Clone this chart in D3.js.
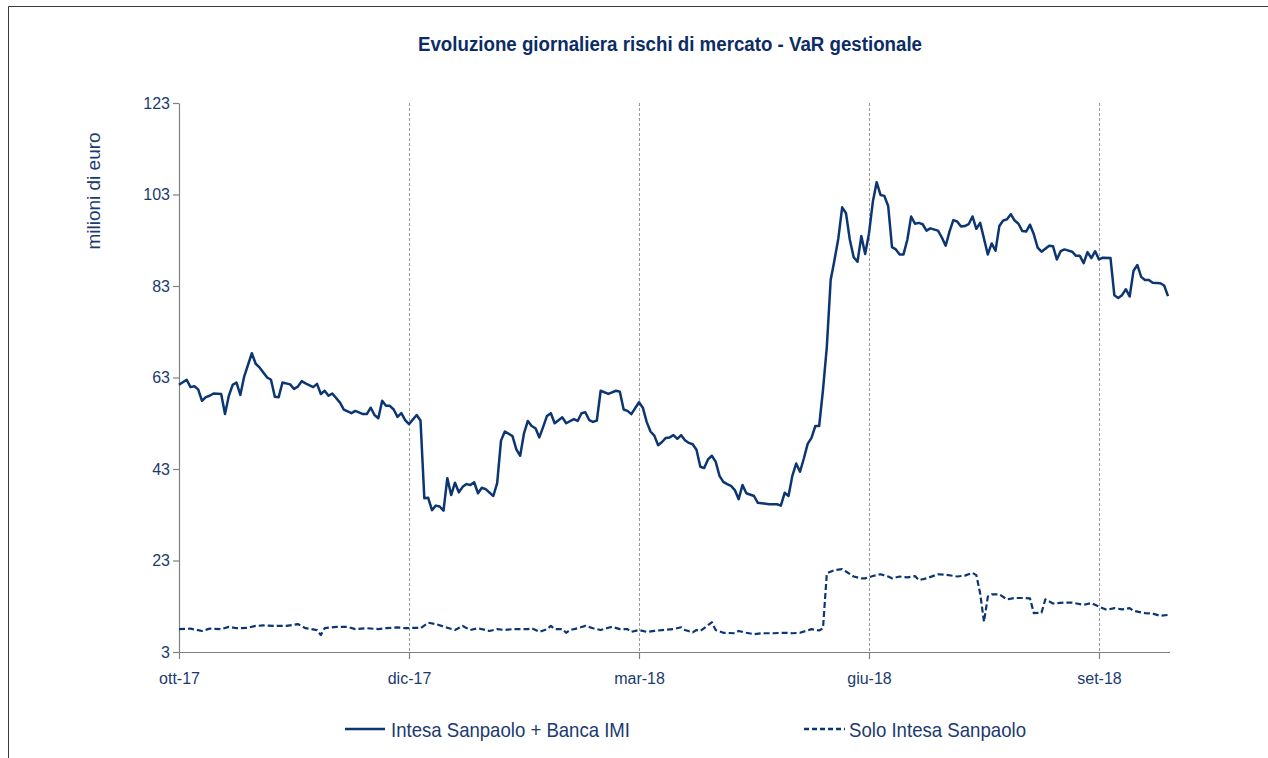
<!DOCTYPE html>
<html>
<head>
<meta charset="utf-8">
<script src="https://cdn.jsdelivr.net/npm/d3@7"></script>
<style>
  body { margin: 0; background: #fff; }
  svg { display: block; }
  .narrow { font-family: "Liberation Sans Narrow", "Arial Narrow", "Liberation Sans", sans-serif; }
  .reg { font-family: "Liberation Sans", Arial, sans-serif; }
</style>
</head>
<body>
<svg></svg>
<script>
const SVGsize = {w: 1268, h: 758};
const margins = {t: 103, r: 100, b: 106, l: 179};
const size = {
    w: SVGsize.w - margins.l - margins.r,
    h: SVGsize.h - margins.t - margins.b
};

const navy = '#0b3672';
const textNavy = '#1b3a70';

// data: trading-day index (0..258) and VaR in milioni di euro
const mainIdx = [0,2,3,4,5,6,7,8,9,11,12,13,14,15,16,17,19,20,21,23,24,25,26,27,29,30,31,32,33,35,36,37,38,39,40,42,43,45,46,48,49,50,51,52,53,54,55,56,57,58,59,60,62,63,
    64,65,66,67,68,69,70,71,72,73,74,75,76,77,78,79,80,82,83,84,85,87,88,89,90,91,92,93,94,95,96,97,98,100,101,103,104,105,106,107,108,109,110,112,114,115,116,117,118,120,121,
    122,123,124,125,126,127,128,129,130,131,132,133,134,135,136,137,138,139,140,141,142,143,144,145,146,147,148,150,151,152,154,156,157,158,159,160,161,162,163,164,165,166,167,
    168,169,170,171,172,173,174,175,176,177,178,179,180,181,182,183,184,185,186,187,188,189,190,191,192,193,194,195,196,198,199,200,201,202,203,204,205,206,207,208,209,
    211,212,213,214,215,216,217,218,219,220,221,222,223,224,225,227,228,229,230,231,233,234,235,236,237,238,239,240,241,243,244,245,246,247,248,249,250,251,252,253,254,256,257,258];
const mainVal = [61.4,62.5,60.9,61.1,60.4,57.9,58.7,59.0,59.5,59.4,55.0,59.0,61.4,61.9,59.2,63.2,68.3,66.0,65.2,63.0,62.5,58.8,58.7,61.9,61.5,60.5,61.0,62.2,61.7,60.9,61.6,59.4,60.1,59.0,59.5,57.5,56.0,55.2,55.7,55.0,55.0,56.4,54.8,54.1,57.9,56.8,56.8,56.0,54.4,55.2,53.7,52.8,54.8,53.6,
    36.6,36.7,34.0,35.0,34.8,33.9,41.0,37.3,40.0,37.9,39.1,39.7,39.5,40.1,37.7,38.9,38.6,37.1,39.9,49.2,51.2,50.2,47.3,45.9,50.8,53.5,52.4,51.9,49.9,52.2,54.6,55.2,53.0,54.3,53.0,53.9,53.5,55.2,55.4,53.7,53.3,53.6,60.1,59.4,60.1,59.9,56.0,55.7,55.0,57.6,56.4,
    53.3,51.2,50.3,48.2,48.9,49.8,49.9,50.4,49.6,50.4,49.3,48.7,48.4,47.2,43.5,43.2,45.1,45.9,44.6,41.5,40.2,39.7,39.3,38.4,36.4,39.5,37.7,37.1,35.6,35.5,35.3,35.3,35.0,37.8,37.1,41.5,44.2,42.4,45.3,48.5,49.8,52.4,52.4,
    60.3,69.7,84.3,88.7,93.4,100.2,98.9,93.1,89.3,88.3,93.9,90.0,94.5,101.4,105.7,102.9,102.7,100.5,91.5,91.0,89.9,89.9,93.1,98.2,96.6,96.8,96.5,95.1,95.6,95.1,93.6,91.8,94.9,97.4,97.1,96.0,96.1,96.5,98.2,95.5,96.8,
    89.9,92.3,90.7,96.1,97.3,97.6,98.7,97.3,96.6,95.0,94.9,96.4,94.3,91.4,90.5,91.8,91.7,88.8,90.6,91.0,90.5,89.6,89.6,88.0,90.4,89.1,90.6,88.8,89.2,89.1,81.0,80.4,81.0,82.3,80.7,86.3,87.6,85.0,84.3,84.3,83.7,83.6,83.1,80.8];

const soloIdx = [0,3,6,8,11,13,15,18,20,22,25,28,31,33,36,37,38,41,44,46,49,52,54,57,59,62,63,65,67,70,72,74,76,78,81,83,85,87,91,92,94,96,97,98,100,101,102,104,106,108,110,112,113,115,117,118,120,
    122,124,126,129,131,132,134,135,136,137,139,140,142,145,146,148,150,152,155,158,160,162,165,167,168,169,171,173,174,176,178,179,181,183,185,186,188,190,192,193,195,198,200,203,205,207,208,
    209,210,211,212,214,216,218,220,222,223,225,226,228,231,233,236,238,240,242,244,246,248,249,252,254,256,258];
const soloVal = [8.0,8.1,7.6,8.1,8.0,8.5,8.2,8.3,8.7,8.8,8.7,8.7,9.1,8.2,7.8,6.7,8.2,8.5,8.5,8.0,8.2,8.0,8.2,8.4,8.2,8.3,8.2,9.4,9.1,8.3,7.8,8.7,7.8,8.2,7.6,8.0,7.8,8.0,8.0,8.2,7.4,8.0,8.7,8.0,8.0,7.2,7.8,8.2,8.7,8.2,7.8,8.3,8.5,8.0,8.0,7.4,7.8,
    7.4,7.6,7.8,8.0,8.4,7.8,7.3,7.8,7.6,8.2,9.5,7.8,7.2,7.1,7.6,7.2,6.9,7.1,7.1,7.2,7.1,7.2,8.0,7.7,8.2,20.2,20.9,21.1,20.6,19.5,19.1,19.1,19.6,20.0,19.5,19.1,19.5,19.3,19.6,18.7,19.1,20.0,19.9,19.5,19.7,20.3,19.8,
    15.8,9.6,15.1,15.6,15.6,14.5,14.8,14.8,14.7,11.5,11.6,14.5,13.6,13.8,13.8,13.3,13.7,12.9,12.2,12.6,12.3,12.6,12.0,11.5,11.4,10.9,11.1];

const yTicks = [3, 23, 43, 63, 83, 103, 123];
const xTickIdx = [0, 60, 120, 180, 240];
const xTickLabels = ['ott-17', 'dic-17', 'mar-18', 'giu-18', 'set-18'];

const seriesNames = ['Intesa Sanpaolo + Banca IMI', 'Solo Intesa Sanpaolo'];
const chartTitle = 'Evoluzione giornaliera rischi di mercato - VaR gestionale';
const yTitle = 'milioni di euro';

const svg = d3.select('svg')
    .attr('width', SVGsize.w)
    .attr('height', SVGsize.h);

// outer frame (only top and left edges visible)
svg.append('path')
    .attr('d', `M8.5,${SVGsize.h + 5} V6.5 H${SVGsize.w + 5}`)
    .attr('fill', 'none')
    .attr('stroke', '#3a3a3a')
    .attr('stroke-width', 1);

// condensed look: no narrow font installed, so squeeze with textLength
svg.append('text')
    .attr('class', 'narrow')
    .attr('x', 418)
    .attr('y', 51)
    .attr('font-size', 20)
    .attr('font-weight', 'bold')
    .attr('fill', '#0c2c66')
    .attr('textLength', 504)
    .attr('lengthAdjust', 'spacingAndGlyphs')
    .text(chartTitle);

const containerG = svg.append('g')
    .attr('transform', `translate(${margins.l}, ${margins.t})`);

const scaleX = d3.scaleLinear()
    .domain([0, 258])
    .range([0, 989]);
const scaleY = d3.scaleLinear()
    .domain([3, 123])
    .range([size.h, 0]);

// vertical dashed gridlines at the month ticks
containerG.selectAll('.grid')
    .data(xTickIdx.slice(1))
    .enter()
    .append('line')
        .attr('class', 'grid')
        .attr('x1', d => Math.round(scaleX(d)) + 0.5)
        .attr('x2', d => Math.round(scaleX(d)) + 0.5)
        .attr('y1', 0)
        .attr('y2', size.h)
        .attr('stroke', '#9a9a9a')
        .attr('stroke-width', 1)
        .attr('stroke-dasharray', '3 2');

// axes
const yAxis = containerG.append('g')
    .call(d3.axisLeft(scaleY).tickValues(yTicks).tickSize(6).tickPadding(3).tickSizeOuter(0));
const xAxis = containerG.append('g')
    .attr('transform', `translate(0, ${size.h})`)
    .call(d3.axisBottom(scaleX).tickValues(xTickIdx)
        .tickFormat((d, i) => xTickLabels[i])
        .tickSize(7).tickPadding(14).tickSizeOuter(0));
xAxis.select('.domain').attr('d', `M0.5,0.5H${scaleX(258) + 2}`);

[yAxis, xAxis].forEach(ax => {
    ax.select('.domain').attr('stroke', '#808080').attr('stroke-width', 1.2);
    ax.selectAll('.tick line').attr('stroke', '#808080').attr('stroke-width', 1.2);
    ax.selectAll('.tick text')
        .attr('class', 'reg')
        .attr('font-size', 16)
        .attr('fill', textNavy);
});

svg.append('text')
    .attr('class', 'reg')
    .attr('transform', 'translate(100, 191) rotate(-90)')
    .attr('text-anchor', 'middle')
    .attr('font-size', 19)
    .attr('fill', textNavy)
    .text(yTitle);

// lines
const line = d3.line()
    .x(d => scaleX(d[0]))
    .y(d => scaleY(d[1]));

const mainData = mainIdx.map((d, i) => [d, mainVal[i]]);
const soloData = soloIdx.map((d, i) => [d, soloVal[i]]);

containerG.append('path')
    .datum(soloData)
    .attr('fill', 'none')
    .attr('stroke', navy)
    .attr('stroke-width', 2.2)
    .attr('stroke-dasharray', '6 3')
    .attr('stroke-linejoin', 'round')
    .attr('d', line);

containerG.append('path')
    .datum(mainData)
    .attr('fill', 'none')
    .attr('stroke', navy)
    .attr('stroke-width', 2.5)
    .attr('stroke-linejoin', 'round')
    .attr('d', line);

// legend
const legend = [
    {name: seriesNames[0], x0: 345, x1: 385, tx: 391, tw: 239, dash: null},
    {name: seriesNames[1], x0: 804, x1: 845, tx: 849, tw: 177, dash: '5 3'}
];
const lg = svg.append('g').attr('transform', 'translate(0, 729)');
legend.forEach(l => {
    lg.append('line')
        .attr('x1', l.x0).attr('x2', l.x1)
        .attr('y1', 0).attr('y2', 0)
        .attr('stroke', navy)
        .attr('stroke-width', 2.5)
        .attr('stroke-dasharray', l.dash);
    lg.append('text')
        .attr('class', 'narrow')
        .attr('x', l.tx)
        .attr('y', 8)
        .attr('font-size', 21)
        .attr('fill', textNavy)
        .attr('textLength', l.tw)
        .attr('lengthAdjust', 'spacingAndGlyphs')
        .text(l.name);
});
</script>
</body>
</html>
